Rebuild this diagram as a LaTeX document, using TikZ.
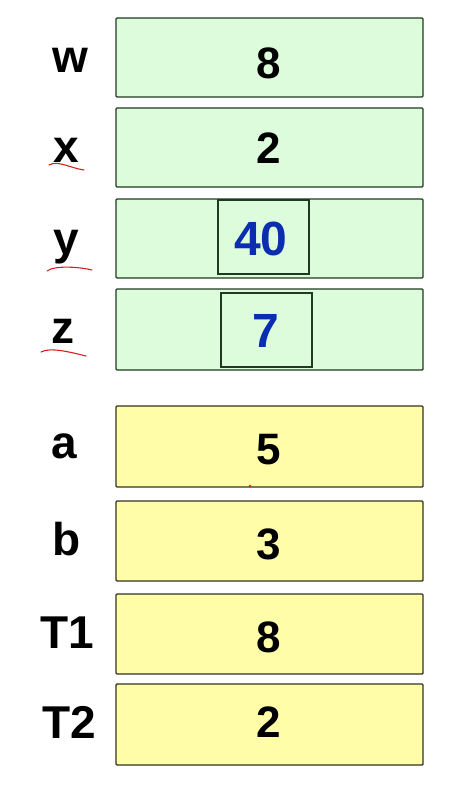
\documentclass[tikz,border=0pt]{standalone}
\usepackage{fontspec}
\setmainfont{Liberation Sans}
\definecolor{gfill}{HTML}{DCFCDC}
\definecolor{yfill}{HTML}{FFFDA8}
\definecolor{gline}{HTML}{1F3A1F}
\definecolor{yline}{HTML}{333322}
\definecolor{vblue}{HTML}{0B2DB0}
\definecolor{pen}{HTML}{D82020}
\begin{document}
\begin{tikzpicture}[x=1pt,y=-1pt,
  gbox/.style={draw=gline,line width=1.4pt,fill=gfill,rounded corners=1pt},
  ybox/.style={draw=yline,line width=1.4pt,fill=yfill,rounded corners=1pt},
  ibox/.style={draw=gline,line width=1.4pt,fill=gfill},
  val/.style={font=\bfseries\fontsize{44}{44}\selectfont},
  bval/.style={font=\bfseries\fontsize{48}{48}\selectfont,text=vblue},
  lab/.style={font=\bfseries\fontsize{46}{46}\selectfont,anchor=base},
  uline/.style={draw=pen,line width=1.1pt,line cap=round}]
\useasboundingbox (0,0) rectangle (458,800);
% green boxes
\draw[gbox] (116,18) rectangle (423,97);
\draw[gbox] (116,108) rectangle (423,187);
\draw[gbox] (116,199) rectangle (423,278);
\draw[gbox] (116,289) rectangle (423,370);
\draw[ibox] (218,200) rectangle (309,274);
\draw[ibox] (221,293) rectangle (312,367);
% yellow boxes
\draw[ybox] (116,406) rectangle (423,487);
\draw[ybox] (116,501) rectangle (423,581);
\draw[ybox] (116,594) rectangle (423,674);
\draw[ybox] (116,684) rectangle (423,765);
% values
\node[val,anchor=base] (vw) at (269,78) {8};
\node[val,anchor=base] (vx) at (269,163) {2};
\node[bval,anchor=base] (vy) at (261,255) {40};
\node[bval,anchor=base] (vz) at (266,347) {7};
\node[val,anchor=base] (va) at (269,464) {5};
\node[val,anchor=base] (vb) at (269,559) {3};
\node[val,anchor=base] (vt1) at (269,652) {8};
\node[val,anchor=base] (vt2) at (269,737) {2};
% labels
\node[lab] (lw) at (70,73) {w};
\node[lab] (lx) at (66,162) {x};
\node[lab] (ly) at (66,254) {y};
\node[lab] (lz) at (63,343) {z};
\node[lab] (la) at (64,458) {a};
\node[lab] (lb) at (67,555) {b};
\node[lab] (lt1) at (67,648) {T1};
\node[lab] (lt2) at (69,738) {T2};
% red underlines
\draw[uline] (49,165) .. controls (58,160) and (70,168) .. (84,170);
\draw[uline] (47,271) .. controls (55,265) and (80,267) .. (92,270);
\draw[uline] (41,352) .. controls (50,347) and (70,352) .. (86,356);
\fill[pen] (250,486) circle (1.3);
\end{tikzpicture}
\end{document}
